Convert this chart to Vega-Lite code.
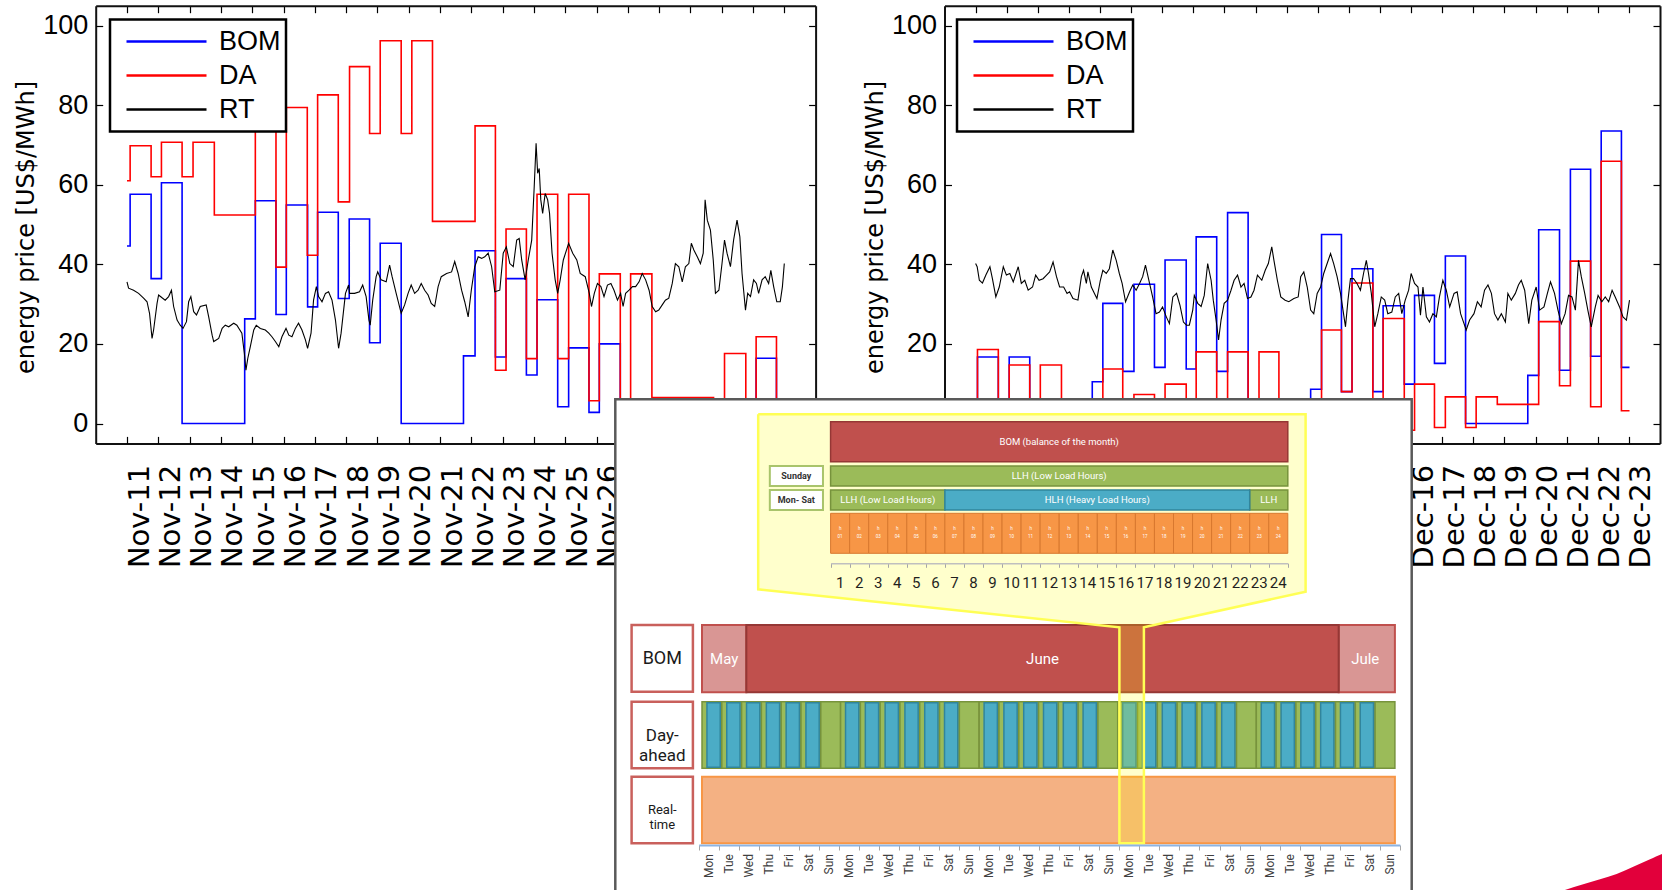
{
"$schema": "https://vega.github.io/schema/vega-lite/v6.json",
"width": 1662, "height": 890, "padding": 0, "autosize": {"type": "none"},
"background": "#ffffff",
"config": {"view": {"stroke": null}, "font": "Liberation Sans", "axis": {"labelFont": "Liberation Sans", "titleFont": "Liberation Sans"}, "legend": {"strokeWidth": 2.5}},
"datasets": {
"lsteps": [
{"s":"BOM","d":11,"p":44.6},{"s":"BOM","d":11.1,"p":57.6},{"s":"BOM","d":11.77,"p":36.4},{"s":"BOM","d":12.1,"p":60.5},{"s":"BOM","d":12.76,"p":0},{"s":"BOM","d":14.76,"p":26.3},{"s":"BOM","d":15.1,"p":56},{"s":"BOM","d":15.76,"p":27.4},{"s":"BOM","d":16.09,"p":54.9},{"s":"BOM","d":16.77,"p":29.3},{"s":"BOM","d":17.09,"p":53.1},{"s":"BOM","d":17.75,"p":31.4},{"s":"BOM","d":18.1,"p":51.4},{"s":"BOM","d":18.75,"p":20.3},{"s":"BOM","d":19.09,"p":45.3},{"s":"BOM","d":19.76,"p":0},{"s":"BOM","d":21.75,"p":17},{"s":"BOM","d":22.12,"p":43.4},{"s":"BOM","d":22.77,"p":16.7},{"s":"BOM","d":23.11,"p":36.4},{"s":"BOM","d":23.76,"p":12.2},{"s":"BOM","d":24.1,"p":31.1},{"s":"BOM","d":24.76,"p":4.2},{"s":"BOM","d":25.11,"p":19},{"s":"BOM","d":25.76,"p":2.8},{"s":"BOM","d":26.09,"p":20},{"s":"BOM","d":26.76,"p":2},{"s":"BOM","d":31.1,"p":16.4},{"s":"BOM","d":31.75,"p":2},{"s":"BOM","d":32,"p":2},
{"s":"DA","d":11,"p":61},{"s":"DA","d":11.1,"p":69.8},{"s":"DA","d":11.77,"p":62},{"s":"DA","d":12.1,"p":70.7},{"s":"DA","d":12.76,"p":62},{"s":"DA","d":13.11,"p":70.7},{"s":"DA","d":13.79,"p":52.4},{"s":"DA","d":15.1,"p":78},{"s":"DA","d":15.76,"p":39.3},{"s":"DA","d":16.09,"p":79.4},{"s":"DA","d":16.76,"p":42.3},{"s":"DA","d":17.09,"p":82.6},{"s":"DA","d":17.75,"p":55.7},{"s":"DA","d":18.11,"p":89.7},{"s":"DA","d":18.75,"p":72.9},{"s":"DA","d":19.09,"p":96.2},{"s":"DA","d":19.76,"p":72.9},{"s":"DA","d":20.1,"p":96.2},{"s":"DA","d":20.76,"p":50.8},{"s":"DA","d":22.12,"p":74.8},{"s":"DA","d":22.77,"p":13.4},{"s":"DA","d":23.11,"p":48.9},{"s":"DA","d":23.76,"p":16.3},{"s":"DA","d":24.1,"p":57.6},{"s":"DA","d":24.76,"p":16.3},{"s":"DA","d":25.11,"p":57.6},{"s":"DA","d":25.76,"p":5.7},{"s":"DA","d":26.09,"p":37.6},{"s":"DA","d":26.76,"p":2},{"s":"DA","d":27.09,"p":37.6},{"s":"DA","d":27.77,"p":6.5},{"s":"DA","d":29.74,"p":1},{"s":"DA","d":30.09,"p":17.6},{"s":"DA","d":30.77,"p":1},{"s":"DA","d":31.1,"p":21.8},{"s":"DA","d":31.75,"p":2},{"s":"DA","d":32,"p":2}
],
"rsteps": [
{"s":"BOM","d":2,"p":2},{"s":"BOM","d":2.06,"p":16.7},{"s":"BOM","d":2.73,"p":2},{"s":"BOM","d":3.08,"p":16.7},{"s":"BOM","d":3.74,"p":2},{"s":"BOM","d":5.75,"p":10.5},{"s":"BOM","d":6.09,"p":30.2},{"s":"BOM","d":6.73,"p":13.1},{"s":"BOM","d":7.09,"p":35},{"s":"BOM","d":7.75,"p":14.1},{"s":"BOM","d":8.09,"p":41.1},{"s":"BOM","d":8.77,"p":13.7},{"s":"BOM","d":9.09,"p":46.9},{"s":"BOM","d":9.75,"p":13.1},{"s":"BOM","d":10.1,"p":53},{"s":"BOM","d":10.76,"p":2},{"s":"BOM","d":12.77,"p":8.6},{"s":"BOM","d":13.12,"p":47.5},{"s":"BOM","d":13.76,"p":8},{"s":"BOM","d":14.1,"p":38.9},{"s":"BOM","d":14.77,"p":8},{"s":"BOM","d":15.1,"p":29.6},{"s":"BOM","d":15.78,"p":9.9},{"s":"BOM","d":16.11,"p":32.2},{"s":"BOM","d":16.75,"p":15.1},{"s":"BOM","d":17.1,"p":42.1},{"s":"BOM","d":17.75,"p":0},{"s":"BOM","d":19.75,"p":12.1},{"s":"BOM","d":20.1,"p":48.7},{"s":"BOM","d":20.77,"p":13.4},{"s":"BOM","d":21.12,"p":63.9},{"s":"BOM","d":21.77,"p":16.9},{"s":"BOM","d":22.11,"p":73.5},{"s":"BOM","d":22.76,"p":14.1},{"s":"BOM","d":23.02,"p":14.1},
{"s":"DA","d":2,"p":2},{"s":"DA","d":2.06,"p":18.6},{"s":"DA","d":2.73,"p":2},{"s":"DA","d":3.08,"p":14.7},{"s":"DA","d":3.74,"p":2},{"s":"DA","d":4.08,"p":14.7},{"s":"DA","d":4.76,"p":2},{"s":"DA","d":6.09,"p":13.7},{"s":"DA","d":6.73,"p":2},{"s":"DA","d":7.09,"p":7.3},{"s":"DA","d":7.75,"p":2},{"s":"DA","d":8.09,"p":9.9},{"s":"DA","d":8.77,"p":2},{"s":"DA","d":9.09,"p":18},{"s":"DA","d":9.75,"p":2},{"s":"DA","d":10.1,"p":18},{"s":"DA","d":10.76,"p":2},{"s":"DA","d":11.11,"p":18},{"s":"DA","d":11.75,"p":2},{"s":"DA","d":13.12,"p":23.5},{"s":"DA","d":13.76,"p":8},{"s":"DA","d":14.1,"p":35.3},{"s":"DA","d":14.77,"p":3},{"s":"DA","d":15.1,"p":26.4},{"s":"DA","d":15.78,"p":-1.7},{"s":"DA","d":16.11,"p":9.9},{"s":"DA","d":16.75,"p":-1},{"s":"DA","d":17.1,"p":6.7},{"s":"DA","d":17.75,"p":-1},{"s":"DA","d":18.09,"p":6.7},{"s":"DA","d":18.77,"p":4.8},{"s":"DA","d":20.1,"p":25.6},{"s":"DA","d":20.77,"p":9.5},{"s":"DA","d":21.12,"p":40.8},{"s":"DA","d":21.77,"p":4.2},{"s":"DA","d":22.11,"p":65.9},{"s":"DA","d":22.76,"p":3.2},{"s":"DA","d":23.02,"p":3.2}
],
"lrt": [
{"d":11,"p":35.6},{"d":11.05,"p":34},{"d":11.21,"p":33.5},{"d":11.37,"p":32.7},{"d":11.53,"p":31.5},{"d":11.64,"p":30.6},{"d":11.72,"p":27.7},{"d":11.8,"p":21.4},{"d":11.85,"p":23.5},{"d":11.96,"p":30.2},{"d":12.01,"p":32.3},{"d":12.12,"p":31.6},{"d":12.22,"p":31},{"d":12.33,"p":31.9},{"d":12.42,"p":33.5},{"d":12.49,"p":29.4},{"d":12.6,"p":26},{"d":12.7,"p":24.7},{"d":12.79,"p":23.9},{"d":12.9,"p":25.6},{"d":12.97,"p":30.6},{"d":13.04,"p":31.9},{"d":13.13,"p":28.1},{"d":13.22,"p":27.3},{"d":13.34,"p":29.4},{"d":13.53,"p":29.8},{"d":13.61,"p":26.8},{"d":13.72,"p":22.2},{"d":13.77,"p":20.6},{"d":13.93,"p":21.4},{"d":14.04,"p":23.9},{"d":14.14,"p":24.7},{"d":14.25,"p":24.3},{"d":14.41,"p":25.2},{"d":14.51,"p":24.7},{"d":14.67,"p":22.7},{"d":14.75,"p":17.6},{"d":14.8,"p":13.4},{"d":14.86,"p":16.4},{"d":14.94,"p":19.3},{"d":15.05,"p":23.5},{"d":15.13,"p":24.7},{"d":15.26,"p":23.9},{"d":15.42,"p":23.5},{"d":15.53,"p":22.7},{"d":15.63,"p":21.8},{"d":15.74,"p":20.6},{"d":15.85,"p":19.3},{"d":15.95,"p":21.8},{"d":16.08,"p":23.9},{"d":16.17,"p":22.2},{"d":16.27,"p":21.8},{"d":16.38,"p":23.9},{"d":16.48,"p":25.2},{"d":16.59,"p":23.5},{"d":16.7,"p":21},{"d":16.77,"p":18.9},{"d":16.88,"p":22.7},{"d":16.96,"p":31},{"d":17.05,"p":34.4},{"d":17.12,"p":31.9},{"d":17.23,"p":30.6},{"d":17.34,"p":32.7},{"d":17.44,"p":33.1},{"d":17.55,"p":31},{"d":17.66,"p":26},{"d":17.76,"p":18.9},{"d":17.84,"p":22.7},{"d":17.98,"p":32.7},{"d":18.08,"p":34.8},
{"d":18.11,"p":32.7},{"d":18.27,"p":32.7},{"d":18.43,"p":33.1},{"d":18.53,"p":34.8},{"d":18.64,"p":31.9},{"d":18.73,"p":26},{"d":18.77,"p":24.7},{"d":18.85,"p":31},{"d":18.96,"p":36.9},{"d":19.01,"p":38.1},{"d":19.12,"p":36.1},{"d":19.28,"p":35.6},{"d":19.39,"p":39.8},{"d":19.47,"p":36.9},{"d":19.6,"p":32.7},{"d":19.76,"p":27.7},{"d":19.87,"p":29.8},{"d":19.98,"p":32.7},{"d":20.08,"p":34.8},{"d":20.19,"p":32.7},{"d":20.3,"p":33.5},{"d":20.4,"p":35.2},{"d":20.51,"p":33.5},{"d":20.62,"p":32.3},{"d":20.72,"p":30.2},{"d":20.83,"p":29.4},{"d":20.94,"p":34.4},{"d":21.04,"p":36.9},{"d":21.21,"p":37.7},{"d":21.37,"p":38.1},{"d":21.47,"p":40.7},{"d":21.58,"p":37.7},{"d":21.69,"p":33.5},{"d":21.79,"p":30.6},{"d":21.9,"p":26.8},{"d":22,"p":33.5},{"d":22.11,"p":39.4},{"d":22.22,"p":41.9},{"d":22.33,"p":41.5},{"d":22.43,"p":41.9},{"d":22.54,"p":42.8},{"d":22.65,"p":39.4},{"d":22.75,"p":33.1},{"d":22.91,"p":33.5},{"d":23.02,"p":42.8},{"d":23.12,"p":44.4},{"d":23.23,"p":40.2},{"d":23.34,"p":39.4},{"d":23.45,"p":46.1},{"d":23.53,"p":46.5},{"d":23.61,"p":41.1},{"d":23.72,"p":36.1},{"d":23.82,"p":41.1},{"d":23.93,"p":46.1},{"d":24.01,"p":59.5},{"d":24.07,"p":70.4},{"d":24.12,"p":62.9},{"d":24.17,"p":64.1},{"d":24.22,"p":56.2},{"d":24.28,"p":52.8},{"d":24.36,"p":57.8},{"d":24.44,"p":56.2},{"d":24.5,"p":52.8},{"d":24.58,"p":42.8},{"d":24.68,"p":36.1},{"d":24.76,"p":32.7},{"d":24.84,"p":36.1},{"d":24.94,"p":41.1},{"d":25.11,"p":45.3},{"d":25.24,"p":42.8},{"d":25.37,"p":41.1},{"d":25.48,"p":37.7},{"d":25.64,"p":36.9},
{"d":25.77,"p":32.7},{"d":25.84,"p":29.4},{"d":25.93,"p":32.7},{"d":26.03,"p":35.2},{"d":26.14,"p":34.4},{"d":26.24,"p":31.9},{"d":26.35,"p":34.8},{"d":26.46,"p":35.2},{"d":26.56,"p":33.5},{"d":26.67,"p":31},{"d":26.77,"p":32.7},{"d":26.85,"p":29.4},{"d":26.93,"p":32.7},{"d":27.04,"p":33.5},{"d":27.15,"p":34.4},{"d":27.25,"p":34.4},{"d":27.36,"p":35.6},{"d":27.46,"p":37.7},{"d":27.57,"p":36.1},{"d":27.68,"p":33.5},{"d":27.78,"p":29.4},{"d":27.89,"p":28.1},{"d":27.99,"p":28.5},{"d":28.1,"p":29.8},{"d":28.2,"p":31},{"d":28.31,"p":31.5},{"d":28.42,"p":35.2},{"d":28.52,"p":40.2},{"d":28.63,"p":39.4},{"d":28.74,"p":35.6},{"d":28.84,"p":39.4},{"d":28.95,"p":40.2},{"d":29.03,"p":45.3},{"d":29.11,"p":43.6},{"d":29.22,"p":41.9},{"d":29.32,"p":40.2},{"d":29.41,"p":42.8},{"d":29.47,"p":56.2},{"d":29.54,"p":51.1},{"d":29.64,"p":48.6},{"d":29.73,"p":41.1},{"d":29.8,"p":32.7},{"d":29.91,"p":33.5},{"d":30.01,"p":40.2},{"d":30.09,"p":46.1},{"d":30.17,"p":42.8},{"d":30.28,"p":39.4},{"d":30.38,"p":46.1},{"d":30.49,"p":51.1},{"d":30.58,"p":46.9},{"d":30.65,"p":37.7},{"d":30.7,"p":33.5},{"d":30.76,"p":28.5},{"d":30.83,"p":32.7},{"d":30.92,"p":31.9},{"d":31.02,"p":36.1},{"d":31.11,"p":35.2},{"d":31.18,"p":32.7},{"d":31.29,"p":36.1},{"d":31.39,"p":36.9},{"d":31.5,"p":35.2},{"d":31.57,"p":38.5},{"d":31.66,"p":34.4},{"d":31.76,"p":30.6},{"d":31.87,"p":30.6},{"d":31.94,"p":34.4},{"d":32,"p":40.2}
],
"rrt": [
{"d":2,"p":40.2},{"d":2.05,"p":39.4},{"d":2.12,"p":36},{"d":2.22,"p":35.3},{"d":2.33,"p":37.3},{"d":2.46,"p":39.4},{"d":2.54,"p":36.4},{"d":2.65,"p":31.8},{"d":2.76,"p":34.3},{"d":2.89,"p":39.4},{"d":2.99,"p":37.3},{"d":3.1,"p":37.7},{"d":3.21,"p":35.6},{"d":3.37,"p":39.4},{"d":3.47,"p":35.2},{"d":3.58,"p":36},{"d":3.69,"p":33.5},{"d":3.83,"p":34.3},{"d":3.93,"p":37.3},{"d":4.04,"p":36},{"d":4.17,"p":36.4},{"d":4.28,"p":37.3},{"d":4.38,"p":38.1},{"d":4.49,"p":40.6},{"d":4.6,"p":36.9},{"d":4.7,"p":34.3},{"d":4.83,"p":34.3},{"d":4.94,"p":32.7},{"d":5.02,"p":33.1},{"d":5.13,"p":31.4},{"d":5.29,"p":31},{"d":5.4,"p":36.9},{"d":5.47,"p":38.5},{"d":5.56,"p":35.2},{"d":5.61,"p":38.1},{"d":5.72,"p":34.3},{"d":5.82,"p":32.7},{"d":5.9,"p":31.4},{"d":6.01,"p":36},{"d":6.09,"p":38.5},{"d":6.2,"p":37.7},{"d":6.3,"p":38.9},{"d":6.41,"p":43.6},{"d":6.52,"p":41},{"d":6.62,"p":37.7},{"d":6.71,"p":35.2},{"d":6.82,"p":30.6},{"d":6.95,"p":33.1},{"d":7.05,"p":34.8},{"d":7.16,"p":33.5},{"d":7.27,"p":35.2},{"d":7.37,"p":36.9},{"d":7.46,"p":39.8},{"d":7.57,"p":36},{"d":7.69,"p":31.8},{"d":7.8,"p":27.6},{"d":7.91,"p":28},{"d":8.01,"p":29.3},{"d":8.13,"p":26.8},{"d":8.23,"p":25.1},{"d":8.34,"p":31.8},{"d":8.46,"p":32.7},{"d":8.57,"p":29.7},{"d":8.68,"p":25.5},{"d":8.78,"p":24.7},
{"d":8.87,"p":24.7},{"d":8.98,"p":28.5},{"d":9.03,"p":32.2},{"d":9.14,"p":30.2},{"d":9.25,"p":29.4},{"d":9.35,"p":32.2},{"d":9.46,"p":40.2},{"d":9.57,"p":36},{"d":9.64,"p":31},{"d":9.73,"p":26},{"d":9.81,"p":21},{"d":9.89,"p":26},{"d":9.99,"p":30.2},{"d":10.1,"p":31},{"d":10.21,"p":33.5},{"d":10.31,"p":36},{"d":10.42,"p":37.3},{"d":10.53,"p":34.3},{"d":10.63,"p":35.2},{"d":10.74,"p":31.4},{"d":10.85,"p":31.8},{"d":10.95,"p":33.5},{"d":11.06,"p":37.3},{"d":11.2,"p":36},{"d":11.31,"p":38.5},{"d":11.41,"p":40.2},{"d":11.52,"p":44.4},{"d":11.59,"p":41},{"d":11.7,"p":36},{"d":11.81,"p":31.8},{"d":11.95,"p":31},{"d":12.07,"p":30.6},{"d":12.23,"p":31.4},{"d":12.37,"p":31.8},{"d":12.45,"p":36.9},{"d":12.55,"p":38.1},{"d":12.66,"p":34.3},{"d":12.77,"p":28.5},{"d":12.87,"p":27.6},{"d":12.98,"p":32.7},{"d":13.09,"p":34.3},{"d":13.19,"p":37.7},{"d":13.3,"p":40.2},{"d":13.41,"p":42.7},{"d":13.51,"p":40.2},{"d":13.62,"p":36.9},{"d":13.73,"p":32.7},{"d":13.81,"p":28.5},{"d":13.89,"p":24.3},{"d":13.97,"p":31},{"d":14.05,"p":36.4},{"d":14.15,"p":36.4},{"d":14.26,"p":35.2},{"d":14.37,"p":33.5},{"d":14.47,"p":37.7},{"d":14.56,"p":41},{"d":14.63,"p":37.7},{"d":14.72,"p":32.7},{"d":14.83,"p":24.3},{"d":14.93,"p":27.6},{"d":15.04,"p":31.8},{"d":15.15,"p":31},{"d":15.25,"p":27.6},{"d":15.38,"p":28},{"d":15.49,"p":31.8},{"d":15.6,"p":32.7},{"d":15.7,"p":27.6},{"d":15.81,"p":31},{"d":15.92,"p":33.5},{"d":16,"p":37.7},{"d":16.11,"p":35.2},
{"d":16.22,"p":34.3},{"d":16.3,"p":27.2},{"d":16.38,"p":34.3},{"d":16.49,"p":26.8},{"d":16.59,"p":25.5},{"d":16.7,"p":27.6},{"d":16.81,"p":26.8},{"d":16.91,"p":31.8},{"d":17.02,"p":36},{"d":17.13,"p":33.5},{"d":17.24,"p":29.3},{"d":17.38,"p":32.7},{"d":17.48,"p":33.1},{"d":17.59,"p":27.6},{"d":17.7,"p":25.1},{"d":17.77,"p":23.5},{"d":17.88,"p":26},{"d":18.02,"p":27.6},{"d":18.13,"p":30.6},{"d":18.25,"p":29.3},{"d":18.36,"p":33.5},{"d":18.47,"p":34.8},{"d":18.58,"p":32.7},{"d":18.68,"p":27.6},{"d":18.79,"p":26},{"d":18.9,"p":27.6},{"d":19.03,"p":25.5},{"d":19.11,"p":32.7},{"d":19.22,"p":31},{"d":19.35,"p":32.7},{"d":19.45,"p":34.8},{"d":19.54,"p":36},{"d":19.65,"p":33.5},{"d":19.78,"p":25.1},{"d":19.88,"p":31},{"d":20.02,"p":34.3},{"d":20.13,"p":28.5},{"d":20.27,"p":29.3},{"d":20.38,"p":32.7},{"d":20.48,"p":35.6},{"d":20.61,"p":32.7},{"d":20.72,"p":28.5},{"d":20.83,"p":25.1},{"d":20.95,"p":27.6},{"d":21.06,"p":32.2},{"d":21.17,"p":31.8},{"d":21.28,"p":28.5},{"d":21.38,"p":41},{"d":21.47,"p":36.9},{"d":21.58,"p":32.7},{"d":21.68,"p":28.5},{"d":21.79,"p":24.3},{"d":21.92,"p":29.3},{"d":22.01,"p":32.2},{"d":22.13,"p":30.6},{"d":22.24,"p":31.8},{"d":22.35,"p":30.6},{"d":22.46,"p":33.5},{"d":22.56,"p":31.8},{"d":22.7,"p":29.3},{"d":22.81,"p":26.8},{"d":22.92,"p":26},{"d":23.02,"p":31}
],
"days": [
{"d0":0,"d1":1,"b0":0.25,"b1":0.92,"m":0.5,"n":"Mon"},{"d0":1,"d1":2,"b0":1.25,"b1":1.92,"m":1.5,"n":"Tue"},{"d0":2,"d1":3,"b0":2.25,"b1":2.92,"m":2.5,"n":"Wed"},{"d0":3,"d1":4,"b0":3.25,"b1":3.92,"m":3.5,"n":"Thu"},{"d0":4,"d1":5,"b0":4.25,"b1":4.92,"m":4.5,"n":"Fri"},{"d0":5,"d1":6,"b0":5.25,"b1":5.92,"m":5.5,"n":"Sat"},{"d0":6,"d1":7,"b0":6.25,"b1":6.92,"m":6.5,"n":"Sun"},
{"d0":7,"d1":8,"b0":7.25,"b1":7.92,"m":7.5,"n":"Mon"},{"d0":8,"d1":9,"b0":8.25,"b1":8.92,"m":8.5,"n":"Tue"},{"d0":9,"d1":10,"b0":9.25,"b1":9.92,"m":9.5,"n":"Wed"},{"d0":10,"d1":11,"b0":10.25,"b1":10.92,"m":10.5,"n":"Thu"},{"d0":11,"d1":12,"b0":11.25,"b1":11.92,"m":11.5,"n":"Fri"},{"d0":12,"d1":13,"b0":12.25,"b1":12.92,"m":12.5,"n":"Sat"},{"d0":13,"d1":14,"b0":13.25,"b1":13.92,"m":13.5,"n":"Sun"},
{"d0":14,"d1":15,"b0":14.25,"b1":14.92,"m":14.5,"n":"Mon"},{"d0":15,"d1":16,"b0":15.25,"b1":15.92,"m":15.5,"n":"Tue"},{"d0":16,"d1":17,"b0":16.25,"b1":16.92,"m":16.5,"n":"Wed"},{"d0":17,"d1":18,"b0":17.25,"b1":17.92,"m":17.5,"n":"Thu"},{"d0":18,"d1":19,"b0":18.25,"b1":18.92,"m":18.5,"n":"Fri"},{"d0":19,"d1":20,"b0":19.25,"b1":19.92,"m":19.5,"n":"Sat"},{"d0":20,"d1":21,"b0":20.25,"b1":20.92,"m":20.5,"n":"Sun"},
{"d0":21,"d1":22,"b0":21.25,"b1":21.92,"m":21.5,"n":"Mon"},{"d0":22,"d1":23,"b0":22.25,"b1":22.92,"m":22.5,"n":"Tue"},{"d0":23,"d1":24,"b0":23.25,"b1":23.92,"m":23.5,"n":"Wed"},{"d0":24,"d1":25,"b0":24.25,"b1":24.92,"m":24.5,"n":"Thu"},{"d0":25,"d1":26,"b0":25.25,"b1":25.92,"m":25.5,"n":"Fri"},{"d0":26,"d1":27,"b0":26.25,"b1":26.92,"m":26.5,"n":"Sat"},{"d0":27,"d1":28,"b0":27.25,"b1":27.92,"m":27.5,"n":"Sun"},
{"d0":28,"d1":29,"b0":28.25,"b1":28.92,"m":28.5,"n":"Mon"},{"d0":29,"d1":30,"b0":29.25,"b1":29.92,"m":29.5,"n":"Tue"},{"d0":30,"d1":31,"b0":30.25,"b1":30.92,"m":30.5,"n":"Wed"},{"d0":31,"d1":32,"b0":31.25,"b1":31.92,"m":31.5,"n":"Thu"},{"d0":32,"d1":33,"b0":32.25,"b1":32.92,"m":32.5,"n":"Fri"},{"d0":33,"d1":34,"b0":33.25,"b1":33.92,"m":33.5,"n":"Sat"},{"d0":34,"d1":35,"b0":34.25,"b1":34.92,"m":34.5,"n":"Sun"}
],
"hours": [
{"h0":0,"h1":1,"hm":0.5,"lab":"1","code":"01"},{"h0":1,"h1":2,"hm":1.5,"lab":"2","code":"02"},{"h0":2,"h1":3,"hm":2.5,"lab":"3","code":"03"},{"h0":3,"h1":4,"hm":3.5,"lab":"4","code":"04"},{"h0":4,"h1":5,"hm":4.5,"lab":"5","code":"05"},{"h0":5,"h1":6,"hm":5.5,"lab":"6","code":"06"},{"h0":6,"h1":7,"hm":6.5,"lab":"7","code":"07"},{"h0":7,"h1":8,"hm":7.5,"lab":"8","code":"08"},{"h0":8,"h1":9,"hm":8.5,"lab":"9","code":"09"},{"h0":9,"h1":10,"hm":9.5,"lab":"10","code":"10"},{"h0":10,"h1":11,"hm":10.5,"lab":"11","code":"11"},{"h0":11,"h1":12,"hm":11.5,"lab":"12","code":"12"},{"h0":12,"h1":13,"hm":12.5,"lab":"13","code":"13"},{"h0":13,"h1":14,"hm":13.5,"lab":"14","code":"14"},{"h0":14,"h1":15,"hm":14.5,"lab":"15","code":"15"},{"h0":15,"h1":16,"hm":15.5,"lab":"16","code":"16"},{"h0":16,"h1":17,"hm":16.5,"lab":"17","code":"17"},{"h0":17,"h1":18,"hm":17.5,"lab":"18","code":"18"},{"h0":18,"h1":19,"hm":18.5,"lab":"19","code":"19"},{"h0":19,"h1":20,"hm":19.5,"lab":"20","code":"20"},{"h0":20,"h1":21,"hm":20.5,"lab":"21","code":"21"},{"h0":21,"h1":22,"hm":21.5,"lab":"22","code":"22"},{"h0":22,"h1":23,"hm":22.5,"lab":"23","code":"23"},{"h0":23,"h1":24,"hm":23.5,"lab":"24","code":"24"}
],
"cbars": [
{"h0":0,"h1":24,"hm":12,"y0":22.7,"y1":62.7,"ym":42.7,"kind":"bom","t":"BOM (balance of the month)"},
{"h0":0,"h1":24,"hm":12,"y0":67,"y1":87,"ym":77,"kind":"llh","t":"LLH (Low Load Hours)"},
{"h0":0,"h1":6,"hm":3,"y0":91,"y1":111,"ym":101,"kind":"llh","t":"LLH (Low Load Hours)"},
{"h0":6,"h1":22,"hm":14,"y0":91,"y1":111,"ym":101,"kind":"hlh","t":"HLH (Heavy Load Hours)"},
{"h0":22,"h1":24,"hm":23,"y0":91,"y1":111,"ym":101,"kind":"llh","t":"LLH"},
{"h0":-3.19,"h1":-0.4,"hm":-1.8,"y0":67,"y1":87,"ym":77,"kind":"lab","t":"Sunday"},
{"h0":-3.19,"h1":-0.4,"hm":-1.8,"y0":91,"y1":111,"ym":101,"kind":"lab","t":"Mon- Sat"}
],
"rowlabels": [
{"x0":16.6,"x1":77.9,"xm":47.3,"y0":226,"y1":292.7,"ym":260,"k":"bom","t":"BOM"},
{"x0":16.6,"x1":77.9,"xm":47.3,"y0":302.7,"y1":369.3,"ym":337,"k":"da","t":"Day-\nahead"},
{"x0":16.6,"x1":77.9,"xm":47.3,"y0":377.7,"y1":444.3,"ym":411,"k":"rt","t":"Real-\ntime"}
],
"months": [
{"d0":0,"d1":2.24,"c":1.12,"m":"May","k":"light"},
{"d0":2.24,"d1":32.16,"c":17.2,"m":"June","k":"dark"},
{"d0":32.16,"d1":35,"c":33.5,"m":"Jule","k":"light"}
],
"poly": [
{"k":1,"px":143.2,"py":15.3},{"k":2,"px":690.6,"py":15.3},{"k":3,"px":690.6,"py":192.7},{"k":4,"px":528.9,"py":228.3},{"k":5,"px":528.9,"py":444.3},{"k":6,"px":504.4,"py":444.3},{"k":7,"px":504.4,"py":228.3},{"k":8,"px":143.2,"py":190.3},{"k":9,"px":143.2,"py":15.3}
]
},
"layer": [
{
"layer": [
{"data": {"name": "lsteps"},
 "mark": {"type": "line", "interpolate": "step-after", "strokeWidth": 1.6},
 "encoding": {
  "x": {"field": "d", "type": "quantitative", "scale": {"domain": [10, 33], "range": [95.7, 815.6], "nice": false, "zero": false},
   "axis": {"orient": "bottom", "offset": -446.6, "values": [11,12,13,14,15,16,17,18,19,20,21,22,23,24,25,26,27,28,29,30,31,32], "ticks": false, "domainColor": "#111111", "domainWidth": 2, "labelExpr": "datum.value <= 30 ? 'Nov-' + datum.value : 'Dec-' + (datum.value - 30)", "labelAngle": 270, "labelAlign": "right", "labelBaseline": "middle", "labelPadding": 21, "labelOffset": 12, "labelFont": "DejaVu Sans", "labelFontSize": 29, "labelColor": "#000000", "labelOverlap": false, "labelFlush": false, "grid": false, "title": null}},
  "y": {"field": "p", "type": "quantitative", "scale": {"domain": [-5, 105], "range": [443.4, 5.7], "nice": false, "zero": false},
   "axis": {"orient": "left", "offset": -95.7, "values": [0,20,40,60,80,100], "ticks": false, "domainColor": "#111111", "domainWidth": 2, "labelPadding": 8, "labelFontSize": 27, "labelColor": "#000000", "labelOverlap": false, "labelFlush": false, "grid": false, "title": "energy price [US$/MWh]", "titleFont": "DejaVu Sans", "titleFontSize": 24, "titleFontWeight": "normal", "titleColor": "#000000", "titleAngle": 270, "titleX": -69, "titleY": 227, "titleAlign": "center", "titleBaseline": "middle"}},
  "color": {"field": "s", "type": "nominal", "scale": {"domain": ["BOM", "DA", "RT"], "range": ["#0000ff", "#ff0000", "#000000"]},
   "legend": {"orient": "none", "legendX": 110, "legendY": 19.5, "direction": "vertical", "title": null, "symbolType": "stroke", "symbolSize": 6400, "symbolStrokeWidth": 2.6, "symbolOffset": 10, "labelOffset": 11, "labelFont": "Liberation Sans", "labelFontSize": 27, "labelColor": "#000000", "labelLimit": 300, "clipHeight": 34, "rowPadding": 0, "padding": 5, "strokeColor": "#000000", "fillColor": "#ffffff"}}
 }},
{"data": {"name": "lrt"},
 "mark": {"type": "line", "strokeWidth": 1.1},
 "encoding": {
  "x": {"field": "d", "type": "quantitative", "scale": {"domain": [10, 33], "range": [95.7, 815.6], "nice": false, "zero": false},
   "axis": {"orient": "top", "offset": -443.4, "values": [11,12,13,14,15,16,17,18,19,20,21,22,23,24,25,26,27,28,29,30,31,32], "labels": false, "domain": false, "tickSize": 7, "tickColor": "#000000", "tickWidth": 1.2, "grid": false, "title": null}},
  "y": {"field": "p", "type": "quantitative", "scale": {"domain": [-5, 105], "range": [443.4, 5.7], "nice": false, "zero": false},
   "axis": {"orient": "right", "offset": -1566.3, "values": [0,20,40,60,80,100], "labels": false, "domain": false, "tickSize": 7, "tickColor": "#000000", "tickWidth": 1.2, "grid": false, "title": null}},
  "color": {"datum": "RT", "type": "nominal"}
 }},
{"data": {"values": [{"x0": 10, "x1": 33, "y0": -5, "y1": 105}]},
 "mark": {"type": "rect", "opacity": 0},
 "encoding": {
  "x": {"field": "x0", "type": "quantitative", "scale": {"domain": [10, 33], "range": [95.7, 815.6], "nice": false, "zero": false},
   "axis": {"orient": "bottom", "offset": -884.3, "values": [11,12,13,14,15,16,17,18,19,20,21,22,23,24,25,26,27,28,29,30,31,32], "labels": false, "domainColor": "#111111", "domainWidth": 2, "tickSize": 7, "tickColor": "#000000", "tickWidth": 1.2, "grid": false, "title": null}},
  "x2": {"field": "x1"},
  "y": {"field": "y0", "type": "quantitative", "scale": {"domain": [-5, 105], "range": [443.4, 5.7], "nice": false, "zero": false},
   "axis": {"orient": "left", "offset": -815.6, "values": [0,20,40,60,80,100], "labels": false, "domainColor": "#111111", "domainWidth": 2, "tickSize": 7, "tickColor": "#000000", "tickWidth": 1.2, "grid": false, "title": null}},
  "y2": {"field": "y1"}
 }}
],
"resolve": {"axis": {"x": "independent", "y": "independent"}}
},
{
"layer": [
{"data": {"name": "rsteps"},
 "mark": {"type": "line", "interpolate": "step-after", "strokeWidth": 1.6},
 "encoding": {
  "x": {"field": "d", "type": "quantitative", "scale": {"domain": [1, 24], "range": [944.5, 1660], "nice": false, "zero": false},
   "axis": {"orient": "bottom", "offset": -446.6, "values": [2,3,4,5,6,7,8,9,10,11,12,13,14,15,16,17,18,19,20,21,22,23], "ticks": false, "domainColor": "#111111", "domainWidth": 2, "labelExpr": "'Dec-' + datum.value", "labelAngle": 270, "labelAlign": "right", "labelBaseline": "middle", "labelPadding": 21, "labelOffset": 12, "labelFont": "DejaVu Sans", "labelFontSize": 29, "labelColor": "#000000", "labelOverlap": false, "labelFlush": false, "grid": false, "title": null}},
  "y": {"field": "p", "type": "quantitative", "scale": {"domain": [-5, 105], "range": [443.4, 5.7], "nice": false, "zero": false},
   "axis": {"orient": "left", "offset": -944.5, "values": [0,20,40,60,80,100], "ticks": false, "domainColor": "#111111", "domainWidth": 2, "labelPadding": 8, "labelFontSize": 27, "labelColor": "#000000", "labelOverlap": false, "labelFlush": false, "grid": false, "title": "energy price [US$/MWh]", "titleFont": "DejaVu Sans", "titleFontSize": 24, "titleFontWeight": "normal", "titleColor": "#000000", "titleAngle": 270, "titleX": -69, "titleY": 227, "titleAlign": "center", "titleBaseline": "middle"}},
  "color": {"field": "s", "type": "nominal", "scale": {"domain": ["BOM", "DA", "RT"], "range": ["#0000ff", "#ff0000", "#000000"]},
   "legend": {"orient": "none", "legendX": 957, "legendY": 19.5, "direction": "vertical", "title": null, "symbolType": "stroke", "symbolSize": 6400, "symbolStrokeWidth": 2.6, "symbolOffset": 10, "labelOffset": 11, "labelFont": "Liberation Sans", "labelFontSize": 27, "labelColor": "#000000", "labelLimit": 300, "clipHeight": 34, "rowPadding": 0, "padding": 5, "strokeColor": "#000000", "fillColor": "#ffffff"}}
 }},
{"data": {"name": "rrt"},
 "mark": {"type": "line", "strokeWidth": 1.1},
 "encoding": {
  "x": {"field": "d", "type": "quantitative", "scale": {"domain": [1, 24], "range": [944.5, 1660], "nice": false, "zero": false},
   "axis": {"orient": "top", "offset": -443.4, "values": [2,3,4,5,6,7,8,9,10,11,12,13,14,15,16,17,18,19,20,21,22,23], "labels": false, "domain": false, "tickSize": 7, "tickColor": "#000000", "tickWidth": 1.2, "grid": false, "title": null}},
  "y": {"field": "p", "type": "quantitative", "scale": {"domain": [-5, 105], "range": [443.4, 5.7], "nice": false, "zero": false},
   "axis": {"orient": "right", "offset": -717.5, "values": [0,20,40,60,80,100], "labels": false, "domain": false, "tickSize": 7, "tickColor": "#000000", "tickWidth": 1.2, "grid": false, "title": null}},
  "color": {"datum": "RT", "type": "nominal"}
 }},
{"data": {"values": [{"x0": 1, "x1": 24, "y0": -5, "y1": 105}]},
 "mark": {"type": "rect", "opacity": 0},
 "encoding": {
  "x": {"field": "x0", "type": "quantitative", "scale": {"domain": [1, 24], "range": [944.5, 1660], "nice": false, "zero": false},
   "axis": {"orient": "bottom", "offset": -884.3, "values": [2,3,4,5,6,7,8,9,10,11,12,13,14,15,16,17,18,19,20,21,22,23], "labels": false, "domainColor": "#111111", "domainWidth": 2, "tickSize": 7, "tickColor": "#000000", "tickWidth": 1.2, "grid": false, "title": null}},
  "x2": {"field": "x1"},
  "y": {"field": "y0", "type": "quantitative", "scale": {"domain": [-5, 105], "range": [443.4, 5.7], "nice": false, "zero": false},
   "axis": {"orient": "left", "offset": -1660, "values": [0,20,40,60,80,100], "labels": false, "domainColor": "#111111", "domainWidth": 2, "tickSize": 7, "tickColor": "#000000", "tickWidth": 1.2, "grid": false, "title": null}},
  "y2": {"field": "y1"}
 }}
],
"resolve": {"axis": {"x": "independent", "y": "independent"}}
},
{
"layer": [
{"data": {"values": [{"x0": 0.3, "x1": 796.7, "y0": 0.3, "y1": 495}]},
 "mark": {"type": "rect", "fill": "#ffffff", "stroke": "#595959", "strokeWidth": 2.5},
 "encoding": {
  "x": {"field": "x0", "type": "quantitative", "scale": {"domain": [0, 800], "range": [615, 1415], "nice": false, "zero": false}, "axis": null},
  "x2": {"field": "x1"},
  "y": {"field": "y0", "type": "quantitative", "scale": {"domain": [0, 491], "range": [399, 890], "nice": false, "zero": false}, "axis": null},
  "y2": {"field": "y1"}
 }},
{"data": {"name": "rowlabels"},
 "mark": {"type": "rect", "fill": "#ffffff", "stroke": "#C9605C", "strokeWidth": 2.5},
 "encoding": {
  "x": {"field": "x0", "type": "quantitative", "scale": {"domain": [0, 800], "range": [615, 1415], "nice": false, "zero": false}, "axis": null},
  "x2": {"field": "x1"},
  "y": {"field": "y0", "type": "quantitative", "scale": {"domain": [0, 491], "range": [399, 890], "nice": false, "zero": false}, "axis": null},
  "y2": {"field": "y1"}
 }},
{"data": {"name": "rowlabels"},
 "transform": [{"filter": "datum.k === 'bom'"}],
 "mark": {"type": "text", "font": "Roboto", "fontSize": 18, "color": "#1a1a1a", "align": "center", "baseline": "middle"},
 "encoding": {
  "x": {"field": "xm", "type": "quantitative", "scale": {"domain": [0, 800], "range": [615, 1415], "nice": false, "zero": false}, "axis": null},
  "y": {"field": "ym", "type": "quantitative", "scale": {"domain": [0, 491], "range": [399, 890], "nice": false, "zero": false}, "axis": null},
  "text": {"field": "t"}
 }},
{"data": {"name": "rowlabels"},
 "transform": [{"filter": "datum.k === 'da'"}],
 "mark": {"type": "text", "font": "Roboto", "fontSize": 17, "lineBreak": "\n", "lineHeight": 20, "color": "#1a1a1a", "align": "center", "baseline": "middle"},
 "encoding": {
  "x": {"field": "xm", "type": "quantitative", "scale": {"domain": [0, 800], "range": [615, 1415], "nice": false, "zero": false}, "axis": null},
  "y": {"field": "ym", "type": "quantitative", "scale": {"domain": [0, 491], "range": [399, 890], "nice": false, "zero": false}, "axis": null},
  "text": {"field": "t"}
 }},
{"data": {"name": "rowlabels"},
 "transform": [{"filter": "datum.k === 'rt'"}],
 "mark": {"type": "text", "font": "Roboto", "fontSize": 13, "lineBreak": "\n", "lineHeight": 15, "color": "#1a1a1a", "align": "center", "baseline": "middle"},
 "encoding": {
  "x": {"field": "xm", "type": "quantitative", "scale": {"domain": [0, 800], "range": [615, 1415], "nice": false, "zero": false}, "axis": null},
  "y": {"field": "ym", "type": "quantitative", "scale": {"domain": [0, 491], "range": [399, 890], "nice": false, "zero": false}, "axis": null},
  "text": {"field": "t"}
 }},
{"data": {"name": "months"},
 "transform": [{"filter": "datum.k === 'light'"}],
 "mark": {"type": "rect", "fill": "#D99694", "stroke": "#C0504D", "strokeWidth": 2},
 "encoding": {
  "x": {"field": "d0", "type": "quantitative", "scale": {"domain": [0, 35], "range": [702, 1394.9], "nice": false, "zero": false}, "axis": null},
  "x2": {"field": "d1"},
  "y": {"datum": 226, "type": "quantitative", "scale": {"domain": [0, 491], "range": [399, 890], "nice": false, "zero": false}, "axis": null},
  "y2": {"datum": 293.3}
 }},
{"data": {"name": "months"},
 "transform": [{"filter": "datum.k === 'dark'"}],
 "mark": {"type": "rect", "fill": "#C0504D", "stroke": "#953735", "strokeWidth": 2},
 "encoding": {
  "x": {"field": "d0", "type": "quantitative", "scale": {"domain": [0, 35], "range": [702, 1394.9], "nice": false, "zero": false}, "axis": null},
  "x2": {"field": "d1"},
  "y": {"datum": 226, "type": "quantitative", "scale": {"domain": [0, 491], "range": [399, 890], "nice": false, "zero": false}, "axis": null},
  "y2": {"datum": 293.3}
 }},
{"data": {"name": "months"},
 "mark": {"type": "text", "font": "Roboto", "fontSize": 15, "color": "#ffffff", "align": "center", "baseline": "middle"},
 "encoding": {
  "x": {"field": "c", "type": "quantitative", "scale": {"domain": [0, 35], "range": [702, 1394.9], "nice": false, "zero": false}, "axis": null},
  "y": {"datum": 259.5, "type": "quantitative", "scale": {"domain": [0, 491], "range": [399, 890], "nice": false, "zero": false}, "axis": null},
  "text": {"field": "m"}
 }},
{"data": {"name": "days"},
 "mark": {"type": "rect", "fill": "#9BBB59", "stroke": "#77933C", "strokeWidth": 1.5},
 "encoding": {
  "x": {"field": "d0", "type": "quantitative", "scale": {"domain": [0, 35], "range": [702, 1394.9], "nice": false, "zero": false}, "axis": null},
  "x2": {"field": "d1"},
  "y": {"datum": 302.7, "type": "quantitative", "scale": {"domain": [0, 491], "range": [399, 890], "nice": false, "zero": false}, "axis": null},
  "y2": {"datum": 369.3}
 }},
{"data": {"name": "days"},
 "transform": [{"filter": "datum.n !== 'Sun'"}],
 "mark": {"type": "rect", "fill": "#4BACC6", "stroke": "#31859C", "strokeWidth": 1.5},
 "encoding": {
  "x": {"field": "b0", "type": "quantitative", "scale": {"domain": [0, 35], "range": [702, 1394.9], "nice": false, "zero": false}, "axis": null},
  "x2": {"field": "b1"},
  "y": {"datum": 303.7, "type": "quantitative", "scale": {"domain": [0, 491], "range": [399, 890], "nice": false, "zero": false}, "axis": null},
  "y2": {"datum": 368.3}
 }},
{"data": {"values": [{"d0": 0, "d1": 35}]},
 "mark": {"type": "rect", "fill": "#F4B183", "stroke": "#F79646", "strokeWidth": 2},
 "encoding": {
  "x": {"field": "d0", "type": "quantitative", "scale": {"domain": [0, 35], "range": [702, 1394.9], "nice": false, "zero": false}, "axis": null},
  "x2": {"field": "d1"},
  "y": {"datum": 377.7, "type": "quantitative", "scale": {"domain": [0, 491], "range": [399, 890], "nice": false, "zero": false}, "axis": null},
  "y2": {"datum": 444.3}
 }},
{"data": {"name": "days"},
 "mark": {"type": "text", "font": "Roboto", "fontSize": 12, "color": "#404040", "angle": 270, "align": "right", "baseline": "middle"},
 "encoding": {
  "x": {"field": "m", "type": "quantitative", "scale": {"domain": [0, 35], "range": [698.7, 1399.8], "nice": false, "zero": false},
   "axis": {"orient": "bottom", "offset": -45, "values": [0,1,2,3,4,5,6,7,8,9,10,11,12,13,14,15,16,17,18,19,20,21,22,23,24,25,26,27,28,29,30,31,32,33,34,35], "labels": false, "tickSize": 5, "tickColor": "#A6A6A6", "domainColor": "#8DB4E2", "domainWidth": 2, "grid": false, "title": null, "zindex": 1}},
  "y": {"datum": 455, "type": "quantitative", "scale": {"domain": [0, 491], "range": [399, 890], "nice": false, "zero": false}, "axis": null},
  "text": {"field": "n"}
 }},
{"data": {"name": "poly"},
 "mark": {"type": "line", "fill": "#FFFF00", "fillOpacity": 0.2, "stroke": "#FFFF55", "strokeWidth": 2.5, "strokeJoin": "miter"},
 "encoding": {
  "x": {"field": "px", "type": "quantitative", "scale": {"domain": [0, 800], "range": [615, 1415], "nice": false, "zero": false}, "axis": null},
  "y": {"field": "py", "type": "quantitative", "scale": {"domain": [0, 491], "range": [399, 890], "nice": false, "zero": false}, "axis": null},
  "order": {"field": "k", "type": "quantitative"}
 }},
{"data": {"name": "cbars"},
 "transform": [{"filter": "datum.kind === 'bom'"}],
 "mark": {"type": "rect", "fill": "#C0504D", "stroke": "#953735", "strokeWidth": 1.5},
 "encoding": {
  "x": {"field": "h0", "type": "quantitative", "scale": {"domain": [0, 24], "range": [830.6, 1287.8], "nice": false, "zero": false}, "axis": null},
  "x2": {"field": "h1"},
  "y": {"field": "y0", "type": "quantitative", "scale": {"domain": [0, 491], "range": [399, 890], "nice": false, "zero": false}, "axis": null},
  "y2": {"field": "y1"}
 }},
{"data": {"name": "cbars"},
 "transform": [{"filter": "datum.kind === 'llh'"}],
 "mark": {"type": "rect", "fill": "#9BBB59", "stroke": "#77933C", "strokeWidth": 1.5},
 "encoding": {
  "x": {"field": "h0", "type": "quantitative", "scale": {"domain": [0, 24], "range": [830.6, 1287.8], "nice": false, "zero": false}, "axis": null},
  "x2": {"field": "h1"},
  "y": {"field": "y0", "type": "quantitative", "scale": {"domain": [0, 491], "range": [399, 890], "nice": false, "zero": false}, "axis": null},
  "y2": {"field": "y1"}
 }},
{"data": {"name": "cbars"},
 "transform": [{"filter": "datum.kind === 'hlh'"}],
 "mark": {"type": "rect", "fill": "#4BACC6", "stroke": "#31859C", "strokeWidth": 1.5},
 "encoding": {
  "x": {"field": "h0", "type": "quantitative", "scale": {"domain": [0, 24], "range": [830.6, 1287.8], "nice": false, "zero": false}, "axis": null},
  "x2": {"field": "h1"},
  "y": {"field": "y0", "type": "quantitative", "scale": {"domain": [0, 491], "range": [399, 890], "nice": false, "zero": false}, "axis": null},
  "y2": {"field": "y1"}
 }},
{"data": {"name": "cbars"},
 "transform": [{"filter": "datum.kind === 'lab'"}],
 "mark": {"type": "rect", "fill": "#ffffff", "stroke": "#A9C46C", "strokeWidth": 2},
 "encoding": {
  "x": {"field": "h0", "type": "quantitative", "scale": {"domain": [0, 24], "range": [830.6, 1287.8], "nice": false, "zero": false}, "axis": null},
  "x2": {"field": "h1"},
  "y": {"field": "y0", "type": "quantitative", "scale": {"domain": [0, 491], "range": [399, 890], "nice": false, "zero": false}, "axis": null},
  "y2": {"field": "y1"}
 }},
{"data": {"name": "cbars"},
 "transform": [{"filter": "datum.kind !== 'lab'"}],
 "mark": {"type": "text", "font": "Roboto", "fontSize": 9.5, "color": "#ffffff", "align": "center", "baseline": "middle"},
 "encoding": {
  "x": {"field": "hm", "type": "quantitative", "scale": {"domain": [0, 24], "range": [830.6, 1287.8], "nice": false, "zero": false}, "axis": null},
  "y": {"field": "ym", "type": "quantitative", "scale": {"domain": [0, 491], "range": [399, 890], "nice": false, "zero": false}, "axis": null},
  "text": {"field": "t"}
 }},
{"data": {"name": "cbars"},
 "transform": [{"filter": "datum.kind === 'lab'"}],
 "mark": {"type": "text", "font": "Roboto", "fontSize": 9, "fontWeight": "bold", "color": "#333333", "align": "center", "baseline": "middle"},
 "encoding": {
  "x": {"field": "hm", "type": "quantitative", "scale": {"domain": [0, 24], "range": [830.6, 1287.8], "nice": false, "zero": false}, "axis": null},
  "y": {"field": "ym", "type": "quantitative", "scale": {"domain": [0, 491], "range": [399, 890], "nice": false, "zero": false}, "axis": null},
  "text": {"field": "t"}
 }},
{"data": {"name": "hours"},
 "mark": {"type": "rect", "fill": "#F79646", "stroke": "#D8782F", "strokeWidth": 1},
 "encoding": {
  "x": {"field": "h0", "type": "quantitative", "scale": {"domain": [0, 24], "range": [830.6, 1287.8], "nice": false, "zero": false},
   "axis": {"orient": "bottom", "offset": -326.7, "values": [0,1,2,3,4,5,6,7,8,9,10,11,12,13,14,15,16,17,18,19,20,21,22,23,24], "labels": false, "tickSize": 4, "tickColor": "#A6A6A6", "domainColor": "#BFBFBF", "domainWidth": 1.5, "grid": false, "title": null, "zindex": 1}},
  "x2": {"field": "h1"},
  "y": {"datum": 114.3, "type": "quantitative", "scale": {"domain": [0, 491], "range": [399, 890], "nice": false, "zero": false}, "axis": null},
  "y2": {"datum": 154.3}
 }},
{"data": {"name": "hours"},
 "mark": {"type": "text", "font": "Roboto", "fontSize": 4.5, "color": "#ffffff", "align": "center", "baseline": "middle"},
 "encoding": {
  "x": {"field": "hm", "type": "quantitative", "scale": {"domain": [0, 24], "range": [830.6, 1287.8], "nice": false, "zero": false}, "axis": null},
  "y": {"datum": 130, "type": "quantitative", "scale": {"domain": [0, 491], "range": [399, 890], "nice": false, "zero": false}, "axis": null},
  "text": {"value": "h"}
 }},
{"data": {"name": "hours"},
 "mark": {"type": "text", "font": "Roboto", "fontSize": 4.5, "color": "#ffffff", "align": "center", "baseline": "middle"},
 "encoding": {
  "x": {"field": "hm", "type": "quantitative", "scale": {"domain": [0, 24], "range": [830.6, 1287.8], "nice": false, "zero": false}, "axis": null},
  "y": {"datum": 137.7, "type": "quantitative", "scale": {"domain": [0, 491], "range": [399, 890], "nice": false, "zero": false}, "axis": null},
  "text": {"field": "code"}
 }},
{"data": {"name": "hours"},
 "mark": {"type": "text", "font": "Roboto", "fontSize": 15, "color": "#1f1f1f", "align": "center", "baseline": "middle"},
 "encoding": {
  "x": {"field": "hm", "type": "quantitative", "scale": {"domain": [0, 24], "range": [830.6, 1287.8], "nice": false, "zero": false}, "axis": null},
  "y": {"datum": 183.7, "type": "quantitative", "scale": {"domain": [0, 491], "range": [399, 890], "nice": false, "zero": false}, "axis": null},
  "text": {"field": "lab"}
 }}
],
"resolve": {"scale": {"x": "independent"}, "axis": {"x": "independent"}}
},
{"data": {"values": [{"px": 94.16, "py": 100}, {"px": 95.26, "py": 99.36}, {"px": 96.27, "py": 98.8}, {"px": 97.27, "py": 98.2}, {"px": 98.27, "py": 97.38}, {"px": 99.28, "py": 96.55}, {"px": 100, "py": 95.96}, {"px": 100.5, "py": 95.7}]},
 "mark": {"type": "area", "fill": "#E2003B", "interpolate": "monotone"},
 "encoding": {
  "x": {"field": "px", "type": "quantitative", "scale": {"domain": [0, 100], "range": [0, 1662], "nice": false, "zero": false}, "axis": null},
  "y": {"field": "py", "type": "quantitative", "scale": {"domain": [0, 100], "range": [0, 890], "nice": false, "zero": false}, "axis": null},
  "y2": {"datum": 100}
 }}
],
"resolve": {"scale": {"x": "independent", "y": "independent", "color": "independent"}, "axis": {"x": "independent", "y": "independent"}, "legend": {"color": "independent"}}
}
